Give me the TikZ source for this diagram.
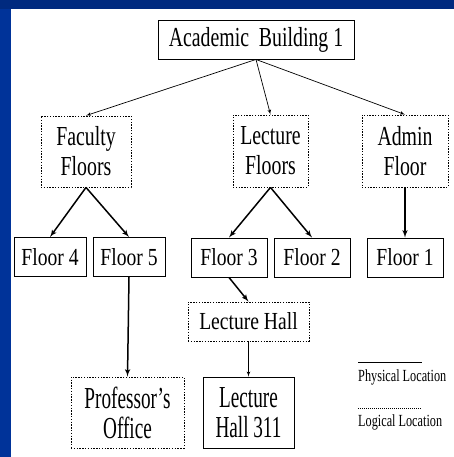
\documentclass[tikz,border=0pt]{standalone}
\usepackage{fontspec}
\setmainfont[FakeStretch=0.72]{Liberation Serif}
\newfontfamily\floorfont[FakeStretch=0.80]{Liberation Serif}
\newfontfamily\roomfont[FakeStretch=0.63]{Liberation Serif}
\usetikzlibrary{shapes,arrows}
\definecolor{slidetop}{RGB}{0,42,127}
\definecolor{slideside}{RGB}{0,51,153}

\begin{document}
\begin{tikzpicture}[x=1pt,y=1pt,>=latex',auto]
        % Define block styles
        \tikzstyle{block} = [rectangle, draw, line width=0.95pt, align=center, minimum height=39pt, inner sep=2pt, font=\fontsize{27.5}{30}\selectfont]
        \tikzstyle{logical} = [block, line width=0.85pt, dash pattern=on 1.4pt off 1.4pt]
        \tikzstyle{floortext} = [font=\floorfont\fontsize{24.5}{30}\selectfont]
        \tikzstyle{roomtext} = [font=\roomfont\fontsize{30.5}{30}\selectfont]
        \tikzstyle{link} = [draw, -latex', line width=0.7pt]
        \tikzstyle{boldlink} = [draw, -latex', line width=1.5pt]
        \tikzstyle{legendtext} = [anchor=base west, inner sep=0pt, font=\fontsize{17}{20}\selectfont]

        % Slide background
        \useasboundingbox (0,0) rectangle (454,457);
        \fill [white] (0,0) rectangle (454,457);
        \fill [slideside] (0,0) rectangle (10.5,457);
        \fill [slidetop] (0,447.5) rectangle (454,457);

        % Nodes
        \node [block, minimum width=196pt] (building) at (256,417.5) {Academic~ Building 1};
        \node [logical, minimum width=90pt, minimum height=71pt] (faculty) at (86,305.5) {Faculty\\Floors};
        \node [logical, minimum width=75pt, minimum height=72pt] (lecture) at (270.5,306) {Lecture\\Floors};
        \node [logical, minimum width=86pt, minimum height=72pt] (admin) at (405,306) {Admin\\Floor};
        \node [block, floortext, minimum width=72pt] (floor4) at (50,200) {Floor 4};
        \node [block, floortext, minimum width=72pt, right of=floor4, node distance=79pt] (floor5) {Floor 5};
        \node [block, floortext, minimum width=76pt] (floor3) at (229,199.5) {Floor 3};
        \node [block, floortext, minimum width=76pt, right of=floor3, node distance=83pt] (floor2) {Floor 2};
        \node [block, floortext, minimum width=76pt, below of=admin, node distance=106.5pt] (floor1) {Floor 1};
        \node [logical, floortext, minimum width=121pt] (hall) at (248.5,135.5) {Lecture Hall};
        \node [block, roomtext, minimum width=91pt, minimum height=71pt, below of=hall, node distance=91pt] (hall311) {Lecture\\Hall 311};
        \node [logical, roomtext, minimum width=113pt, minimum height=71pt, left of=hall311, node distance=121pt] (office) {Professor’s\\Office};

        % Arrows
        \path [link] (building.south) -- (faculty.north);
        \path [link] (building.south) -- (lecture.north);
        \path [link] (building.south) -- (admin.north);
        \path [boldlink] (faculty.south) -- (floor4.north);
        \path [boldlink] (faculty.south) -- (floor5.north);
        \path [boldlink] (lecture.south) -- (floor3.north);
        \path [boldlink] (lecture.south) -- (floor2.north);
        \path [boldlink] (admin.south) -- (floor1.north);
        \path [boldlink] (floor5.south) -- (office.north);
        \path [boldlink] (floor3.south) -- (hall.north);
        \path [link] (hall.south) -- (hall311.north);

        % Legend
        \coordinate (solidA) at (358,95);
        \coordinate (solidB) at (422,95);
        \coordinate (dotA) at (358,49);
        \coordinate (dotB) at (422,49);
        \draw [line width=0.8pt] (solidA) -- (solidB);
        \node [legendtext] (physical) at (358,75) {Physical Location};
        \draw [line width=0.8pt, dash pattern=on 1pt off 1pt] (dotA) -- (dotB);
        \node [legendtext] (logicalloc) at (358,30) {Logical Location};

    \end{tikzpicture}
\end{document}
